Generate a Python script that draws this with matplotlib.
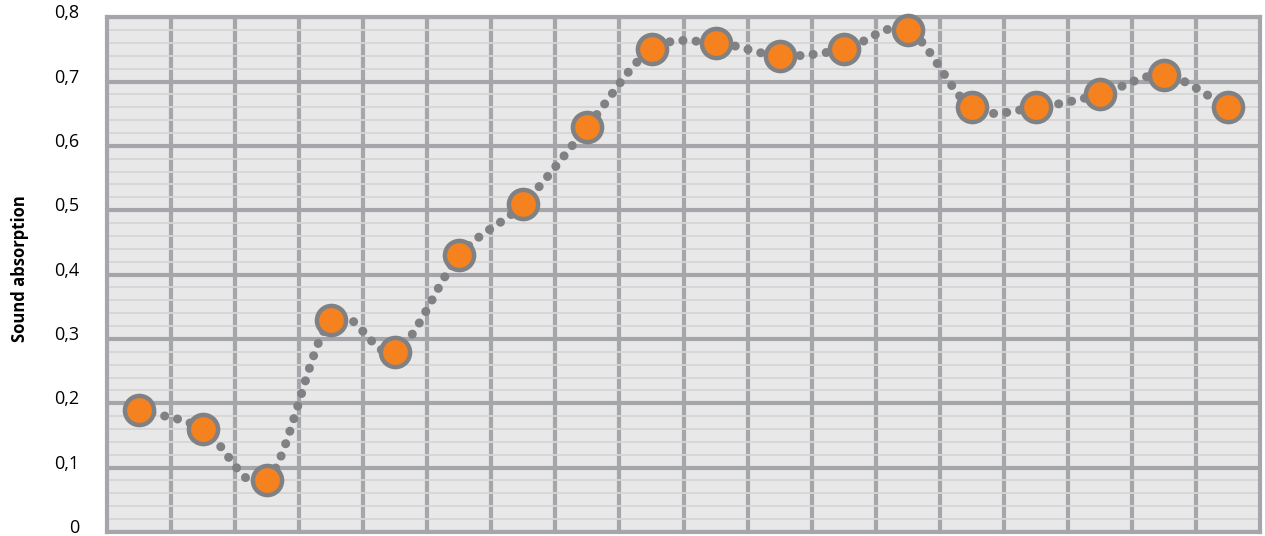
import matplotlib
matplotlib.use('Agg')
import matplotlib.pyplot as plt
from matplotlib.ticker import MultipleLocator, FuncFormatter
import matplotlib.transforms as mtransforms
import numpy as np

# values, one per category
positions = list(range(18))
absorption = [0.19, 0.16, 0.08, 0.33, 0.28, 0.43, 0.51, 0.63, 0.75,
              0.76, 0.74, 0.75, 0.78, 0.66, 0.66, 0.68, 0.71, 0.66]
yticks = [0, 0.1, 0.2, 0.3, 0.4, 0.5, 0.6, 0.7, 0.8]
ylabel = 'Sound absorption'

grid_col = '#a5a6aa'
bg_col = '#e8e8e8'
minor_col = '#d6d6d6'
orange = '#f5821f'
dot_col = '#808184'


def smooth(xs, ys, n=20):
    # catmull-rom rendering of the line between the data points
    xs = np.asarray(xs, float)
    ys = np.asarray(ys, float)
    px = np.concatenate([[2 * xs[0] - xs[1]], xs, [2 * xs[-1] - xs[-2]]])
    py = np.concatenate([[2 * ys[0] - ys[1]], ys, [2 * ys[-1] - ys[-2]]])
    outx, outy = [], []
    t = np.linspace(0, 1, n, endpoint=False)
    for i in range(1, len(px) - 2):
        for p, out in ((px, outx), (py, outy)):
            p0, p1, p2, p3 = p[i - 1], p[i], p[i + 1], p[i + 2]
            out.extend(0.5 * (2 * p1 + (-p0 + p2) * t
                              + (2 * p0 - 5 * p1 + 4 * p2 - p3) * t ** 2
                              + (-p0 + 3 * p1 - 3 * p2 + p3) * t ** 3))
    outx.append(xs[-1])
    outy.append(ys[-1])
    return np.array(outx), np.array(outy)


plt.rcParams['font.family'] = ['Open Sans', 'DejaVu Sans']

fig = plt.figure(figsize=(12.65, 5.36), dpi=100)
ax = fig.add_axes([0.0846, 0.0075, 0.9115, 0.9605])
ax.set_facecolor(bg_col)

ax.set_xlim(-0.5, len(positions) - 0.5)
ax.set_ylim(0, 0.8)

# grid
ax.yaxis.set_major_locator(MultipleLocator(0.1))
ax.yaxis.set_minor_locator(MultipleLocator(0.02))
ax.set_xticks([p + 0.5 for p in positions[:-1]])
ax.grid(True, which='major', color=grid_col, linewidth=3, zorder=1)
ax.grid(True, which='minor', axis='y', color=minor_col, linewidth=1.3, zorder=0)
ax.set_axisbelow(True)
for s in ax.spines.values():
    s.set_color(grid_col)
    s.set_linewidth(3)

ax.tick_params(axis='both', which='both', length=0)
ax.tick_params(axis='y', pad=20, labelsize=13)
ax.set_xticklabels([])
ax.set_yticks(yticks)
ax.yaxis.set_major_formatter(FuncFormatter(lambda v, p: ('%g' % round(v, 2)).replace('.', ',')))
shift = mtransforms.ScaledTranslation(0, 6 / 100, fig.dpi_scale_trans)
for lab in ax.get_yticklabels():
    lab.set_transform(lab.get_transform() + shift)

sx, sy = smooth(positions, absorption)
ax.plot(sx, sy, color=dot_col, linewidth=6.5, linestyle=(0, (0.01, 1.45)),
        dash_capstyle='round', zorder=3, clip_on=False)
ax.plot(positions, absorption, linestyle='none', marker='o', markersize=21,
        markerfacecolor=orange, markeredgecolor=dot_col, markeredgewidth=3.2,
        zorder=4, clip_on=False)

fig.text(20 / 1265, 1 - 269 / 536, ylabel, rotation=90, fontsize=12,
         fontweight='bold', ha='center', va='center')

fig.savefig('out.png', dpi=100)
